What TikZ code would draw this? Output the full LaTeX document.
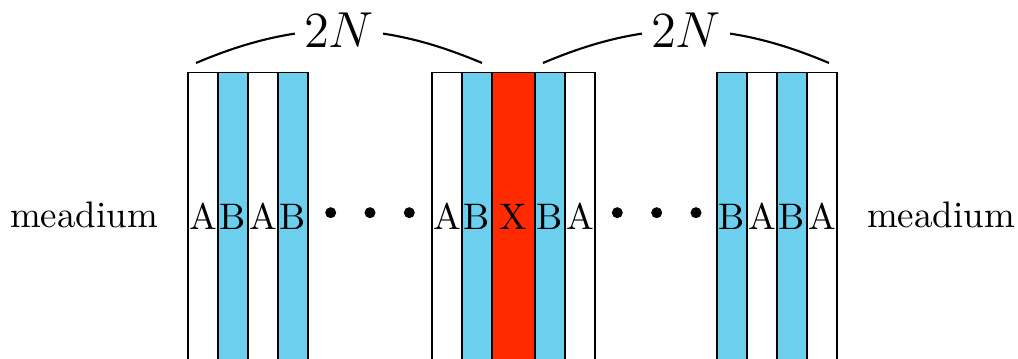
\documentclass[tikz,border=0pt]{standalone}
\definecolor{layerblue}{RGB}{108,207,238}
\definecolor{layerred}{RGB}{255,42,0}
\begin{document}
\begin{tikzpicture}[x=0.01cm,y=-0.01cm,
  every node/.style={font=\fontsize{10.5}{12}\selectfont},
  strip/.style={draw,line width=0.35pt,minimum width=0.3cm,minimum height=3cm,
    inner sep=0pt,text height=7.17pt,text depth=3.4pt},
  bstrip/.style={strip,fill=layerblue},
  xstrip/.style={strip,fill=layerred,minimum width=0.43cm},
  dot/.style={circle,fill,inner sep=0pt,minimum size=0.11cm},
  brace/.style={line width=0.6pt}]
\useasboundingbox[fill=white] (0,0) rectangle (1018,359);
\clip (0,0) rectangle (1018,359);
% left block
\node[strip]  (l1) at (203,222.5) {A};
\node[bstrip] (l2) at (233,222.5) {B};
\node[strip]  (l3) at (263,222.5) {A};
\node[bstrip] (l4) at (293,222.5) {B};
% central block
\node[strip]  (c1) at (447,222.5) {A};
\node[bstrip] (c2) at (477,222.5) {B};
\node[xstrip] (c3) at (513.5,222.5) {X};
\node[bstrip] (c4) at (550,222.5) {B};
\node[strip]  (c5) at (580,222.5) {A};
% right block
\node[bstrip] (r1) at (732,222.5) {B};
\node[strip]  (r2) at (762,222.5) {A};
\node[bstrip] (r3) at (792,222.5) {B};
\node[strip]  (r4) at (822,222.5) {A};
% dots
\foreach \x [count=\i] in {330.7,370,409.3} \node[dot] (dl\i) at (\x,212.7) {};
\foreach \x [count=\i] in {617.3,656.7,696} \node[dot] (dr\i) at (\x,212.7) {};
% surrounding medium
\node[anchor=base] (ml) at (84,228) {meadium};
\node[anchor=base] (mr) at (941,228) {meadium};
% braces
\coordinate (bl1) at (196,63);
\coordinate (bl2) at (482,63);
\coordinate (br1) at (543,63);
\coordinate (br2) at (829,63);
\draw[brace] (bl1) to[bend left=23] node[fill=white,inner sep=2.5pt] (nl) {\Large$2N$} (bl2);
\draw[brace] (br1) to[bend left=23] node[fill=white,inner sep=2.5pt] (nr) {\Large$2N$} (br2);
\end{tikzpicture}
\end{document}
